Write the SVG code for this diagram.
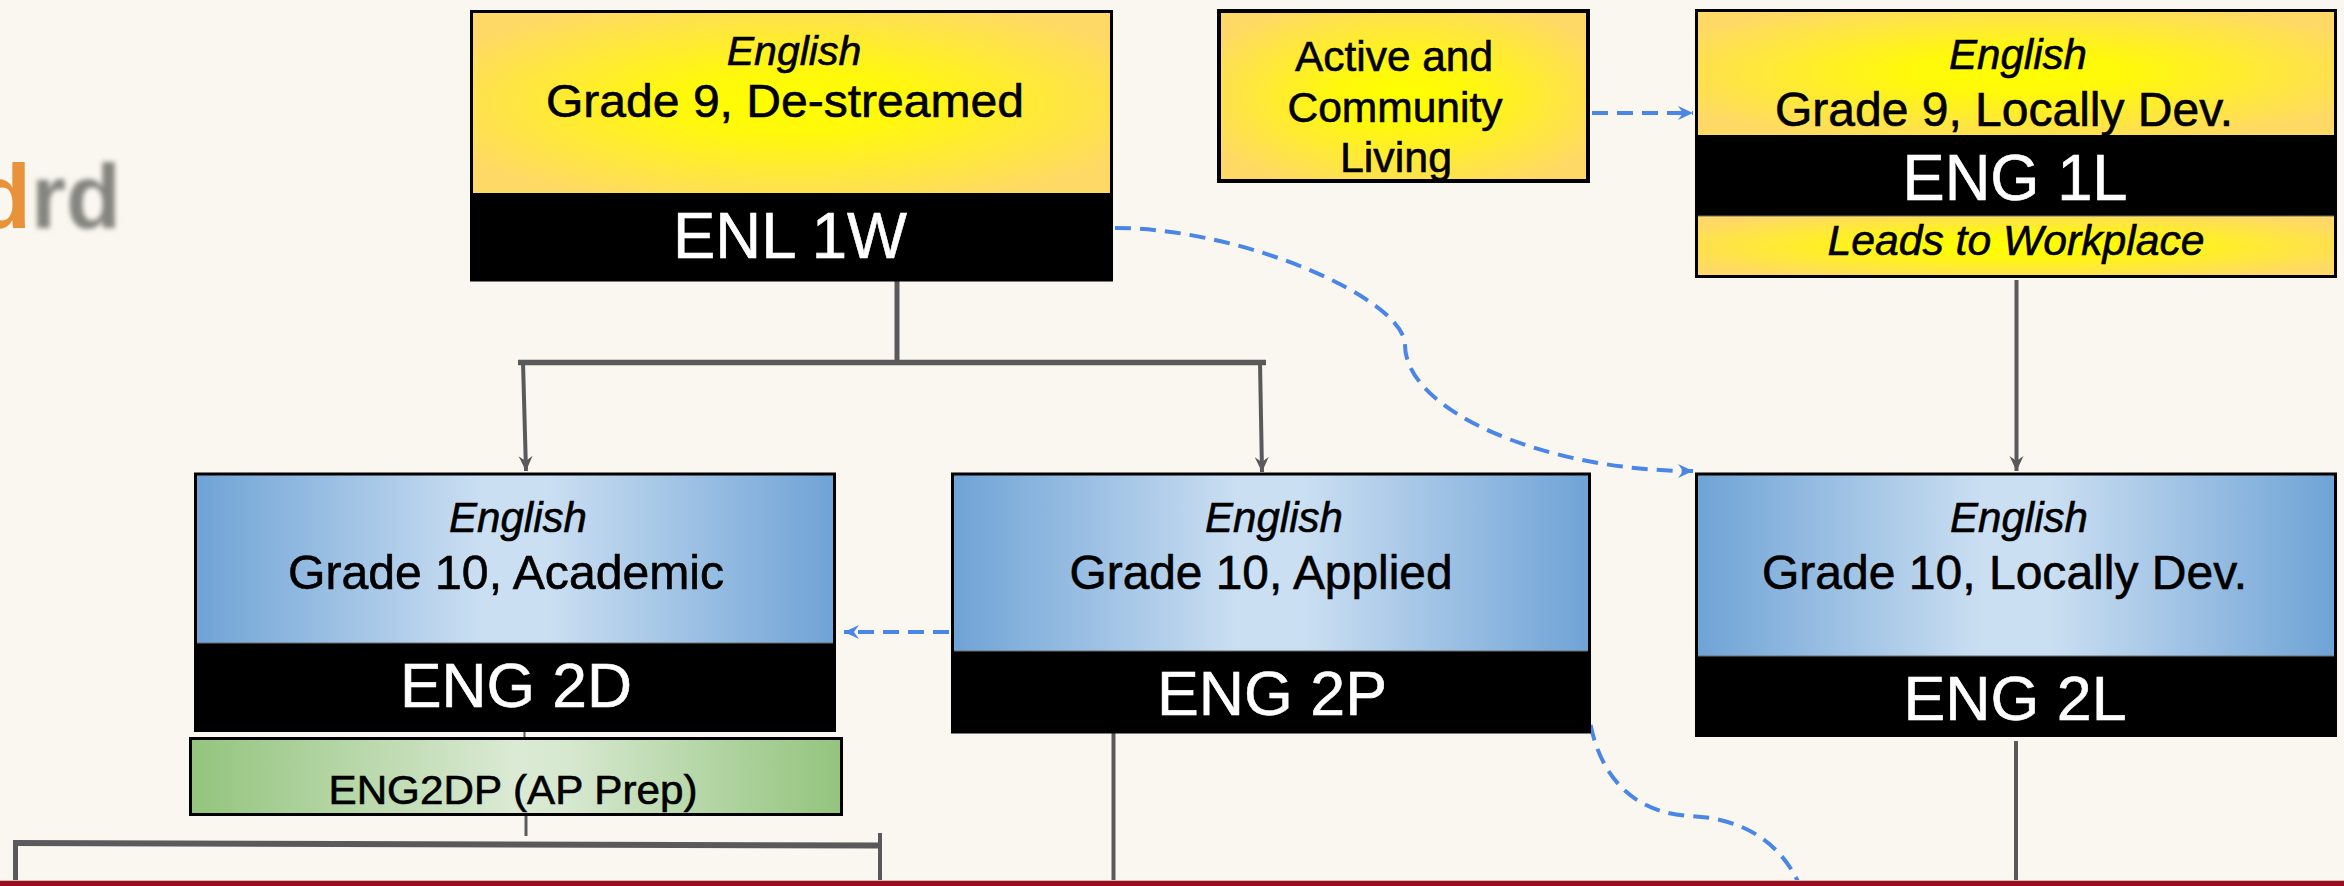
<svg xmlns="http://www.w3.org/2000/svg" width="2344" height="886" viewBox="0 0 2344 886">
<defs>
<radialGradient id="gy" cx="0.5" cy="0.5" r="0.6">
<stop offset="0" stop-color="#ffff00"/>
<stop offset="0.3" stop-color="#fff80c"/>
<stop offset="1" stop-color="#ffd966"/>
</radialGradient>
<linearGradient id="gb" x1="0" y1="0" x2="1" y2="0">
<stop offset="0" stop-color="#6fa3d6"/>
<stop offset="0.45" stop-color="#cbdff2"/>
<stop offset="0.55" stop-color="#cbdff2"/>
<stop offset="1" stop-color="#6fa3d6"/>
</linearGradient>
<linearGradient id="gg" x1="0" y1="0" x2="1" y2="0">
<stop offset="0" stop-color="#93c47d"/>
<stop offset="0.5" stop-color="#dbead4"/>
<stop offset="0.58" stop-color="#d6e8cf"/>
<stop offset="1" stop-color="#93c47d"/>
</linearGradient>
<filter id="blur" x="-20%" y="-20%" width="140%" height="140%"><feGaussianBlur stdDeviation="2.5"/></filter>
<marker id="ag" markerUnits="userSpaceOnUse" markerWidth="16" markerHeight="16" refX="15" refY="8" orient="auto">
<path d="M0,1 L15,8 L0,15 L5,8 z" fill="#5a5a5a"/>
</marker>
<marker id="ab" markerUnits="userSpaceOnUse" markerWidth="16" markerHeight="16" refX="15" refY="8" orient="auto">
<path d="M0,1 L15,8 L0,15 L5,8 z" fill="#4a86e8"/>
</marker>
<style>
.t{font-family:"Liberation Sans",Arial,sans-serif;text-anchor:middle;fill:#000;stroke:#000;stroke-width:0.6}
.i{font-style:italic}
.w{fill:#fff;stroke:#fff}
.box{fill:none;stroke:#000;stroke-width:3}
.sep{stroke:#6d6d6d;stroke-width:1.2}
.gl{fill:none;stroke:#5a5a5a;stroke-linecap:butt}
.bl{fill:none;stroke:#4a86e8;stroke-width:4;stroke-dasharray:16 9}
</style>
</defs>
<rect width="2344" height="886" fill="#faf7f0"/>

<g id="logo-fragment">
<text x="31" y="228" font-family="Liberation Sans,Arial,sans-serif" font-weight="bold" font-size="90" fill="#858580" filter="url(#blur)">rd</text>
<text x="-24" y="228" font-family="Liberation Sans,Arial,sans-serif" font-weight="bold" font-size="90" fill="#e8923a">d</text>
</g>

<g id="connectors">
<line class="gl" x1="897" y1="281" x2="897" y2="363" stroke-width="5"/>
<line class="gl" x1="518" y1="362.5" x2="1266" y2="362.5" stroke-width="5.5"/>
<line class="gl" x1="523" y1="362" x2="526" y2="471" stroke-width="4" marker-end="url(#ag)"/>
<line class="gl" x1="1260" y1="362" x2="1262" y2="472" stroke-width="4" marker-end="url(#ag)"/>
<line class="gl" x1="2016.5" y1="280" x2="2016.5" y2="471" stroke-width="4" marker-end="url(#ag)"/>
<line class="gl" x1="524.5" y1="731" x2="524.5" y2="738" stroke-width="2"/>
<line class="gl" x1="526" y1="816" x2="526" y2="836" stroke-width="3"/>
<path class="gl" d="M13,843 L880,845.5" stroke-width="6"/>
<line class="gl" x1="15.5" y1="840" x2="15.5" y2="882" stroke-width="5"/>
<line class="gl" x1="880" y1="833" x2="880" y2="882" stroke-width="4"/>
<line class="gl" x1="1113.5" y1="733" x2="1113.5" y2="882" stroke-width="4"/>
<line class="gl" x1="2016" y1="741" x2="2016" y2="882" stroke-width="4"/>
<line class="bl" x1="1592" y1="113" x2="1693" y2="113" marker-end="url(#ab)"/>
<line class="bl" x1="949" y1="632" x2="844" y2="632" marker-end="url(#ab)"/>
<path class="bl" d="M1115,228 C1245,228 1405,300 1405,345 C1405,410 1543,471 1693,471" marker-end="url(#ab)"/>
<path class="bl" d="M1587,700 C1592,760 1620,812 1690,816 C1740,818 1780,840 1800,886"/>
</g>

<g id="enl1w">
<rect x="471.5" y="11.5" width="640" height="181.5" fill="url(#gy)"/>
<rect x="471.5" y="193" width="640" height="87" fill="#000"/>
<rect class="box" x="471.5" y="11.5" width="640" height="268.5"/>
<text class="t i" x="794" y="65" font-size="41">English</text>
<text class="t" x="785" y="117" font-size="47" textLength="478" lengthAdjust="spacingAndGlyphs">Grade 9, De-streamed</text>
<text class="t w" x="790" y="258" font-size="64" textLength="234" lengthAdjust="spacingAndGlyphs">ENL 1W</text>
</g>

<g id="acl">
<rect x="1219" y="11" width="369" height="170" fill="url(#gy)" stroke="#000" stroke-width="4"/>
<text class="t" x="1394" y="71" font-size="42" textLength="198" lengthAdjust="spacingAndGlyphs">Active and</text>
<text class="t" x="1395" y="122" font-size="42" textLength="215" lengthAdjust="spacingAndGlyphs">Community</text>
<text class="t" x="1396" y="172" font-size="42" textLength="112" lengthAdjust="spacingAndGlyphs">Living</text>
</g>

<g id="eng1l">
<rect x="1696.5" y="10.5" width="639" height="124.5" fill="url(#gy)"/>
<rect x="1696.5" y="135" width="639" height="81" fill="#000"/>
<rect x="1696.5" y="216" width="639" height="60.5" fill="url(#gy)"/>
<line class="sep" x1="1696.5" y1="216" x2="2335.5" y2="216"/>
<rect class="box" x="1696.5" y="10.5" width="639" height="266"/>
<text class="t i" x="2018" y="69" font-size="42">English</text>
<text class="t" x="2004" y="126" font-size="47.5" textLength="458" lengthAdjust="spacingAndGlyphs">Grade 9, Locally Dev.</text>
<text class="t w" x="2015" y="200" font-size="64" textLength="225" lengthAdjust="spacingAndGlyphs">ENG 1L</text>
<text class="t i" x="2016" y="255" font-size="42.5" textLength="377" lengthAdjust="spacingAndGlyphs">Leads to Workplace</text>
</g>

<g id="eng2d">
<rect x="195.5" y="474" width="639" height="169" fill="url(#gb)"/>
<rect x="195.5" y="643" width="639" height="87.5" fill="#000"/>
<line class="sep" x1="195.5" y1="643" x2="834.5" y2="643"/>
<rect class="box" x="195.5" y="474" width="639" height="256.5"/>
<text class="t i" x="518" y="532" font-size="42">English</text>
<text class="t" x="506" y="589" font-size="48" textLength="436" lengthAdjust="spacingAndGlyphs">Grade 10, Academic</text>
<text class="t w" x="516" y="707" font-size="63" textLength="232" lengthAdjust="spacingAndGlyphs">ENG 2D</text>
</g>

<g id="eng2dp">
<rect x="190.5" y="738.5" width="651" height="76" fill="url(#gg)" stroke="#000" stroke-width="3"/>
<text class="t" x="513" y="804" font-size="40" textLength="369" lengthAdjust="spacingAndGlyphs">ENG2DP (AP Prep)</text>
</g>

<g id="eng2p">
<rect x="952.5" y="474" width="637" height="177" fill="url(#gb)"/>
<rect x="952.5" y="651" width="637" height="81" fill="#000"/>
<line class="sep" x1="952.5" y1="651" x2="1589.5" y2="651"/>
<rect class="box" x="952.5" y="474" width="637" height="258"/>
<text class="t i" x="1274" y="532" font-size="42">English</text>
<text class="t" x="1261" y="589" font-size="47.5" textLength="383" lengthAdjust="spacingAndGlyphs">Grade 10, Applied</text>
<text class="t w" x="1272" y="715" font-size="63" textLength="230" lengthAdjust="spacingAndGlyphs">ENG 2P</text>
</g>

<g id="eng2l">
<rect x="1696.5" y="474" width="639" height="182" fill="url(#gb)"/>
<rect x="1696.5" y="656" width="639" height="79.5" fill="#000"/>
<line class="sep" x1="1696.5" y1="656" x2="2335.5" y2="656"/>
<rect class="box" x="1696.5" y="474" width="639" height="261.5"/>
<text class="t i" x="2019" y="532" font-size="42">English</text>
<text class="t" x="2004.5" y="589" font-size="47.5" textLength="485" lengthAdjust="spacingAndGlyphs">Grade 10, Locally Dev.</text>
<text class="t w" x="2015" y="720" font-size="63" textLength="223" lengthAdjust="spacingAndGlyphs">ENG 2L</text>
</g>

<rect x="0" y="880" width="2344" height="1" fill="#c9c2bb"/>
<rect x="0" y="881" width="2344" height="5" fill="#9c0d1f"/>
</svg>
